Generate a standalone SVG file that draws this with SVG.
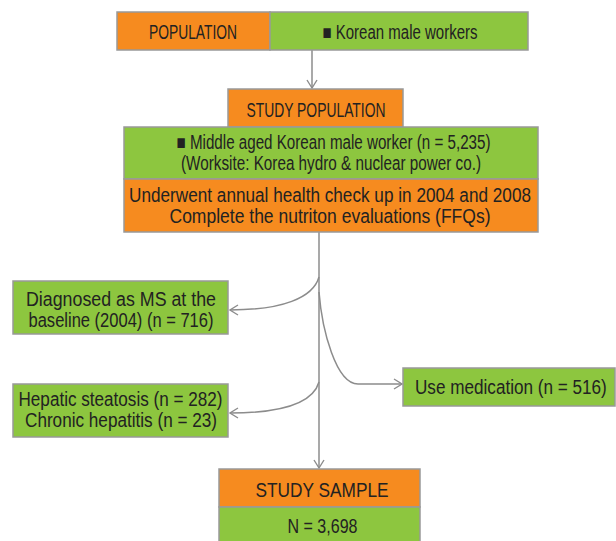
<svg xmlns="http://www.w3.org/2000/svg" width="616" height="541" viewBox="0 0 616 541">
<defs>
<style>
.o{fill:#F68B1F;stroke:#999;stroke-width:1.5}
.g{fill:#8DC63F;stroke:#999;stroke-width:1.5}
text{font-family:"Liberation Sans Narrow","Liberation Sans",Arial,sans-serif;font-size:20px;fill:#222}
.c{fill:none;stroke:#8c8c8c;stroke-width:1.5}
</style>
<marker id="ah" markerWidth="12" markerHeight="12" viewBox="-10 -6 12 12" refX="0" refY="0" orient="auto" markerUnits="userSpaceOnUse">
<path d="M-8,-5 L0,0 L-8,5" fill="none" stroke="#8c8c8c" stroke-width="1.4"/>
</marker>
</defs>
<rect width="616" height="541" fill="#fff"/>
<g id="connectors">
<path class="c" d="M312,50 L312,88" marker-end="url(#ah)"/>
<path class="c" d="M319,232 L319,468" marker-end="url(#ah)"/>
<path class="c" d="M319,277 C313,298 282,310 230,310" marker-end="url(#ah)"/>
<path class="c" d="M319,382 C313,403 282,413 230,413" marker-end="url(#ah)"/>
<path class="c" d="M319,292 C322,330 336,384 358,384 L402,384" marker-end="url(#ah)"/>
</g>
<g id="population">
<rect class="o" x="117" y="12" width="153" height="38"/>
<text x="149" y="39" textLength="88" lengthAdjust="spacingAndGlyphs">POPULATION</text>
</g>
<g id="korean-male-workers">
<rect class="g" x="270" y="12" width="258" height="38"/>
<text x="322.5" y="39" textLength="155" lengthAdjust="spacingAndGlyphs">■ Korean male workers</text>
</g>
<g id="study-population">
<rect class="o" x="228" y="89" width="175" height="38"/>
<text x="246.5" y="116.5" textLength="139" lengthAdjust="spacingAndGlyphs">STUDY POPULATION</text>
</g>
<g id="middle-aged">
<rect class="g" x="124" y="127" width="414" height="52"/>
<text x="176.5" y="148.5" textLength="314" lengthAdjust="spacingAndGlyphs">■ Middle aged Korean male worker (n = 5,235)</text>
<text x="181" y="170" textLength="300" lengthAdjust="spacingAndGlyphs">(Worksite: Korea hydro &amp; nuclear power co.)</text>
</g>
<g id="annual-check">
<rect class="o" x="124" y="179" width="414" height="53"/>
<text x="129" y="201.5" textLength="402" lengthAdjust="spacingAndGlyphs">Underwent annual health check up in 2004 and 2008</text>
<text x="169.5" y="223" textLength="321" lengthAdjust="spacingAndGlyphs">Complete the nutriton evaluations (FFQs)</text>
</g>
<g id="diagnosed-ms">
<rect class="g" x="13" y="281" width="215" height="53"/>
<text x="26" y="306" textLength="190" lengthAdjust="spacingAndGlyphs">Diagnosed as MS at the</text>
<text x="28.5" y="326.5" textLength="185" lengthAdjust="spacingAndGlyphs">baseline (2004) (n = 716)</text>
</g>
<g id="hepatic">
<rect class="g" x="13" y="384" width="215" height="53"/>
<text x="18.5" y="405.5" textLength="204" lengthAdjust="spacingAndGlyphs">Hepatic steatosis (n = 282)</text>
<text x="25" y="426.5" textLength="192" lengthAdjust="spacingAndGlyphs">Chronic hepatitis (n = 23)</text>
</g>
<g id="medication">
<rect class="g" x="403" y="368" width="212" height="38"/>
<text transform="translate(415,393.5) scale(0.857,1)" x="0" y="0">Use medication (n = 516)</text>
</g>
<g id="study-sample">
<rect class="o" x="219" y="469" width="201" height="38"/>
<text x="255.5" y="496.5" textLength="133" lengthAdjust="spacingAndGlyphs">STUDY SAMPLE</text>
</g>
<g id="n-sample">
<rect class="g" x="219" y="507" width="201" height="36"/>
<text x="287.5" y="532.5" textLength="70" lengthAdjust="spacingAndGlyphs">N = 3,698</text>
</g>
</svg>
